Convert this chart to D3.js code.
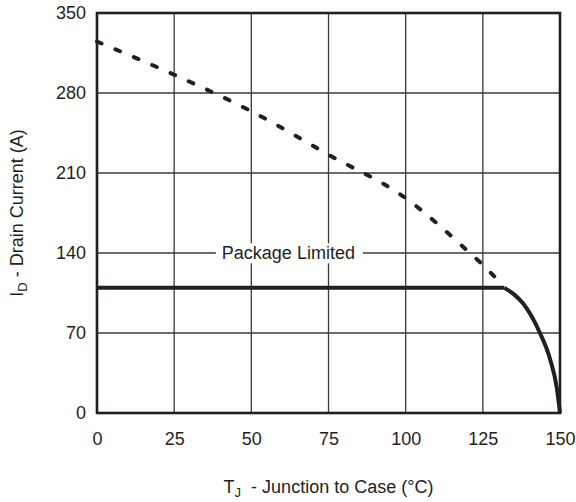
<!DOCTYPE html>
<html>
<head>
<meta charset="utf-8">
<script src="https://cdn.jsdelivr.net/npm/d3@7"></script>
<style>
  html, body { margin: 0; padding: 0; background: #fff; }
  svg { display: block; }
  text { font-family: "Liberation Sans", Arial, Helvetica, sans-serif; fill: #231f20; }
</style>
</head>
<body>
<svg id="chart" width="576" height="502"></svg>
<script>
// ---- data ----
const xTicks = [0, 25, 50, 75, 100, 125, 150];
const yTicks = [0, 70, 140, 210, 280, 350];

// silicon-limited current (dashed part)
const siliconTemp    = [0, 25, 50, 75, 100, 120, 126, 132];
const siliconCurrent = [325, 296, 264, 226, 188, 142, 127, 110];

// package-limited flat segment
const packageTemp    = [0, 132];
const packageCurrent = [109.5, 109.5];

// fall-off to zero at Tj max
const falloffTemp    = [132, 135, 138, 143.5, 146.8, 148.9, 150];
const falloffCurrent = [109.5, 104, 96, 70, 47, 23, 0];

const annotationText = "Package Limited";
const annotationValue = 140;
const annotationTemp = 62;

// ---- layout ----
const W = 576, H = 502;
const m = { left: 97, right: 16, top: 13, bottom: 89 };
const iw = W - m.left - m.right, ih = H - m.top - m.bottom;
const FS = 18;

const svg = d3.select("#chart");
const g = svg.append("g").attr("transform", `translate(${m.left},${m.top})`);

const x = d3.scaleLinear().domain([0, 150]).range([0, iw]);
const y = d3.scaleLinear().domain([0, 350]).range([ih, 0]);

// grid
g.append("g").selectAll("line").data(xTicks).join("line")
  .attr("x1", d => x(d)).attr("x2", d => x(d))
  .attr("y1", 0).attr("y2", ih)
  .attr("stroke", "#3a3a3a").attr("stroke-width", 1.3);
g.append("g").selectAll("line").data(yTicks).join("line")
  .attr("x1", 0).attr("x2", iw)
  .attr("y1", d => y(d)).attr("y2", d => y(d))
  .attr("stroke", "#3a3a3a").attr("stroke-width", 1.3);

// axes (labels only)
const xAxis = g.append("g").attr("transform", `translate(0,${ih})`)
  .call(d3.axisBottom(x).tickValues(xTicks).tickSize(0).tickPadding(19).tickFormat(d3.format("d")));
const yAxis = g.append("g")
  .call(d3.axisLeft(y).tickValues(yTicks).tickSize(0).tickPadding(11).tickFormat(d3.format("d")));
[xAxis, yAxis].forEach(a => {
  a.select(".domain").remove();
  a.selectAll("text").attr("font-size", FS).attr("fill", "#231f20")
    .attr("font-family", "'Liberation Sans', Arial, sans-serif");
});

// annotation label on the 140 gridline
const lab = g.append("text")
  .attr("x", x(annotationTemp)).attr("y", y(annotationValue))
  .attr("dy", "0.35em").attr("text-anchor", "middle")
  .attr("font-size", FS).text(annotationText);
const bb = lab.node().getBBox();
g.insert("rect", () => lab.node())
  .attr("x", bb.x - 6).attr("y", bb.y).attr("width", bb.width + 14).attr("height", bb.height)
  .attr("fill", "#fff");

// lines
const line = d3.line().x(d => x(d[0])).y(d => y(d[1])).curve(d3.curveMonotoneX);

g.append("path")
  .datum(d3.zip(siliconTemp, siliconCurrent))
  .attr("d", line)
  .attr("fill", "none").attr("stroke", "#231f20").attr("stroke-width", 4)
  .attr("stroke-linecap", "round").attr("stroke-dasharray", "5,15");

g.append("path")
  .datum(d3.zip(packageTemp, packageCurrent))
  .attr("d", d3.line().x(d => x(d[0])).y(d => y(d[1])))
  .attr("fill", "none").attr("stroke", "#231f20").attr("stroke-width", 4);

g.append("path")
  .datum(d3.zip(falloffTemp, falloffCurrent))
  .attr("d", line)
  .attr("fill", "none").attr("stroke", "#231f20").attr("stroke-width", 4)
  .attr("stroke-linejoin", "round");

// frame
g.append("rect").attr("x", 0).attr("y", 0).attr("width", iw).attr("height", ih)
  .attr("fill", "none").attr("stroke", "#231f20").attr("stroke-width", 2.6);

// axis titles
const xt = svg.append("text")
  .attr("x", m.left + iw / 2).attr("y", 493)
  .attr("text-anchor", "middle").attr("font-size", FS);
xt.append("tspan").text("T");
xt.append("tspan").attr("font-size", 13).attr("dy", 4).text("J");
xt.append("tspan").attr("dy", -4).text("\u00a0 - Junction to Case (°C)");

const yt = svg.append("text")
  .attr("transform", `translate(23,${m.top + ih / 2}) rotate(-90)`)
  .attr("text-anchor", "middle").attr("font-size", FS);
yt.append("tspan").text("I");
yt.append("tspan").attr("font-size", 13).attr("dy", 4).text("D");
yt.append("tspan").attr("dy", -4).text(" - Drain Current (A)");
</script>
</body>
</html>
